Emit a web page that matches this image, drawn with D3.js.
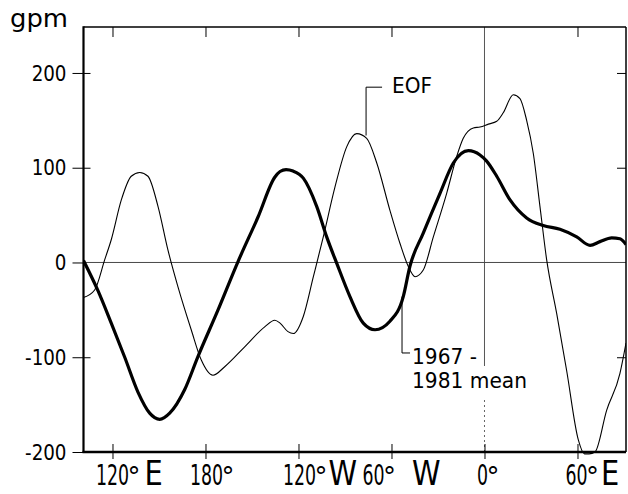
<!DOCTYPE html>
<html><head><meta charset="utf-8">
<script src="https://cdn.jsdelivr.net/npm/d3@7"></script>
<style>body{margin:0;background:#fff} svg{display:block}</style>
</head><body>
<svg id="c" width="628" height="494"></svg>
<script>
// ---- data (longitude in degrees east, continuous 100E..450=90E; values in gpm)
const meanLon = [101.3, 110.7, 119.2, 127.9, 136.5, 144.0, 150.5, 156.9, 166.6, 175.2, 188.1, 201.0, 213.9, 224.7, 228.1, 232.0, 236.5, 243.1, 251.8, 258.2, 264.7, 273.2, 281.8, 289.4, 299.0, 307.6, 311.9, 320.5, 331.3, 339.9, 349.6, 357.1, 361.4, 367.9, 376.5, 387.2, 397.9, 408.7, 419.5, 428.1, 434.5, 442.1, 447.4, 451.3];
const meanVal = [2, -30, -64, -100, -137, -159, -165.5, -159, -134, -99, -50, 1, 48, 90, 96, 98, 96.5, 89, 59, 27, -1, -36, -64, -71, -62, -36, -4, 31, 73, 105, 118, 113.5, 107, 91, 66, 47, 39, 35, 27, 18, 22, 26, 25, 19];

const eofLon = [101.3, 108.5, 115.0, 119.2, 125.7, 132.1, 137.6, 142.9, 149.4, 155.8, 162.3, 170.8, 177.3, 184.8, 192.4, 205.3, 218.2, 224.7, 228.1, 233.2, 236.7, 243.1, 249.6, 256.0, 263.6, 271.1, 277.6, 284.0, 290.5, 299.0, 305.5, 310.8, 315.2, 320.5, 327.0, 335.6, 342.1, 346.3, 352.8, 357.1, 362.5, 367.9, 372.1, 378.6, 382.9, 387.2, 391.5, 395.8, 400.1, 406.6, 413.0, 420.5, 424.5, 427.5, 431.3, 438.8, 447.4, 451.3];
const eofVal = [-37, -29, 3, 24, 66, 91, 95, 91, 59, 13, -26, -71, -103, -119, -110, -89, -68, -61, -64, -73, -75, -57, -15, 27, 80, 122, 136, 131, 105, 55, 20, -4, -15, -8, 27, 73, 112, 131, 142, 143, 146, 149, 158, 177, 173, 150, 115, 59, 3, -54, -114, -187, -202, -202, -200, -156, -117, -85];

const xTicks = [120, 180, 240, 300, 360, 420];
const xTickNums = ["120", "180", "120", "60", "0", "60"];
const xTickLetters = ["E", "", "W", "W", "", "E"];
const yTicks = [-200, -100, 0, 100, 200];
const yTickLabels = ["-200", "-100", "0", "100", "200"];
const unitLabel = "gpm";
const eofLabel = "EOF";
const meanLabel = ["1967 -", "1981 mean"];

// ---- layout
const FONT = "DejaVu Sans, Verdana, sans-serif";
const L = 83.5, R = 626, T = 27, B = 452;
const x = d3.scaleLinear().domain([101.3, 451.3]).range([L, R]);
const y = d3.scaleLinear().domain([-200, 248.5]).range([B, T]);
const svg = d3.select("#c");

svg.append("defs").append("clipPath").attr("id", "clip")
  .append("rect").attr("x", L).attr("y", T).attr("width", R - L).attr("height", B - T + 3);

// zero line
svg.append("line").attr("x1", L).attr("x2", R).attr("y1", y(0)).attr("y2", y(0))
  .attr("stroke", "#333").attr("stroke-width", 0.9);

// 0 deg meridian
const xm = x(360);
svg.append("line").attr("x1", xm).attr("x2", xm).attr("y1", T).attr("y2", 366)
  .attr("stroke", "#444").attr("stroke-width", 0.9);
svg.append("line").attr("x1", xm).attr("x2", xm).attr("y1", 400).attr("y2", B)
  .attr("stroke", "#555").attr("stroke-width", 0.9).attr("stroke-dasharray", "2,3");

// curves
const line = d3.line().x(d => x(d[0])).y(d => y(d[1])).curve(d3.curveMonotoneX);
const g = svg.append("g").attr("clip-path", "url(#clip)");
g.append("path").datum(eofLon.map((l, i) => [l, eofVal[i]]))
  .attr("d", line).attr("fill", "none").attr("stroke", "#000").attr("stroke-width", 1.1);
g.append("path").datum(meanLon.map((l, i) => [l, meanVal[i]]))
  .attr("d", line).attr("fill", "none").attr("stroke", "#000").attr("stroke-width", 3.2)
  .attr("stroke-linejoin", "round");

// axes (ticks)
function styleAxis(sel) {
  sel.select(".domain").remove();
  sel.selectAll(".tick line").attr("stroke", "#000").attr("stroke-width", 1);
  sel.selectAll(".tick text").remove();
}
svg.append("g").attr("transform", `translate(${L},0)`)
  .call(d3.axisLeft(y).tickValues(yTicks).tickSize(11)).call(styleAxis);
svg.append("g").attr("transform", `translate(${L},0)`)
  .call(d3.axisRight(y).tickValues(yTicks.filter(v => v !== 0)).tickSize(7)).call(styleAxis);
svg.append("g").attr("transform", `translate(${R},0)`)
  .call(d3.axisLeft(y).tickValues(yTicks.filter(v => v > -200 && v !== 0)).tickSize(9)).call(styleAxis);
svg.append("g").attr("transform", `translate(0,${B})`)
  .call(d3.axisBottom(x).tickValues(xTicks).tickSize(7)).call(styleAxis);
svg.append("g").attr("transform", `translate(0,${B})`)
  .call(d3.axisTop(x).tickValues(xTicks).tickSize(8)).call(styleAxis);
svg.append("g").attr("transform", `translate(0,${T})`)
  .call(d3.axisBottom(x).tickValues(xTicks.filter(v => v !== 360)).tickSize(10)).call(styleAxis);

// frame
const frame = svg.append("g").attr("stroke", "#000").attr("fill", "none");
frame.append("line").attr("x1", L).attr("x2", L).attr("y1", T - 0.7).attr("y2", B + 1).attr("stroke-width", 2.2);
frame.append("line").attr("x1", L - 1).attr("x2", R).attr("y1", B).attr("y2", B).attr("stroke-width", 2.6);
frame.append("line").attr("x1", L).attr("x2", R).attr("y1", T).attr("y2", T).attr("stroke-width", 1.5);
frame.append("line").attr("x1", R).attr("x2", R).attr("y1", T).attr("y2", B).attr("stroke-width", 1.5);

// y labels
yTicks.forEach((v, i) => {
  svg.append("text").attr("transform", `translate(${L - 17},${y(v)}) scale(0.87,1)`)
    .attr("dy", "0.36em").attr("text-anchor", "end")
    .attr("font-family", FONT).attr("font-size", 21).attr("fill", "#000")
    .text(yTickLabels[i]);
});

// unit
svg.append("text").attr("x", 10).attr("y", 27).attr("font-family", FONT)
  .attr("font-size", 25).attr("textLength", 58).attr("lengthAdjust", "spacingAndGlyphs")
  .text(unitLabel);

// x labels
const numNudge = [0, 1, 1, -18, -2, -1];
const letterGap = [6, 0, 3, 18, 0, 4];
const baseY = 485;
xTicks.forEach((t, i) => {
  const cx = x(t) + numNudge[i];
  const sx = 0.62;
  const nt = svg.append("text").attr("transform", `translate(${cx},${baseY}) scale(${sx},1)`)
    .attr("text-anchor", "middle").attr("font-family", FONT).attr("font-size", 28)
    .text(xTickNums[i]);
  const w = nt.node().getComputedTextLength() * sx;
  const dx0 = cx + w / 2 - 1.5;
  const dt = svg.append("text").attr("x", dx0).attr("y", baseY + 1)
    .attr("font-family", FONT).attr("font-size", 26).text("°");
  const dw = dt.node().getComputedTextLength();
  if (xTickLetters[i]) {
    svg.append("text").attr("transform", `translate(${dx0 + dw - 2 + letterGap[i]},${baseY}) scale(0.85,1)`)
      .attr("font-family", FONT).attr("font-size", 34).text(xTickLetters[i]);
  }
});

// annotations
const eofAnn = { lon: 283.6, from: 134, to: 185 };
const ax = x(eofAnn.lon);
svg.append("path").attr("d", `M${ax},${y(eofAnn.from)}V${y(eofAnn.to)}h16`)
  .attr("fill", "none").attr("stroke", "#000").attr("stroke-width", 1);
svg.append("text").attr("x", ax + 26).attr("y", y(eofAnn.to) + 5.5)
  .attr("font-family", FONT).attr("font-size", 22)
  .attr("textLength", 40).attr("lengthAdjust", "spacingAndGlyphs").text(eofLabel);

const meanAnn = { lon: 306.8, from: -36, to: -95.5 };
const bx = x(meanAnn.lon);
svg.append("path").attr("d", `M${bx},${y(meanAnn.from)}V${y(meanAnn.to)}h8`)
  .attr("fill", "none").attr("stroke", "#000").attr("stroke-width", 1);
svg.append("text").attr("x", bx + 10).attr("y", y(meanAnn.to) + 11)
  .attr("font-family", FONT).attr("font-size", 22)
  .attr("textLength", 65).attr("lengthAdjust", "spacingAndGlyphs").text(meanLabel[0]);
svg.append("text").attr("x", bx + 10).attr("y", y(meanAnn.to) + 35)
  .attr("font-family", FONT).attr("font-size", 22)
  .attr("textLength", 115).attr("lengthAdjust", "spacingAndGlyphs").text(meanLabel[1]);
</script>
</body></html>
